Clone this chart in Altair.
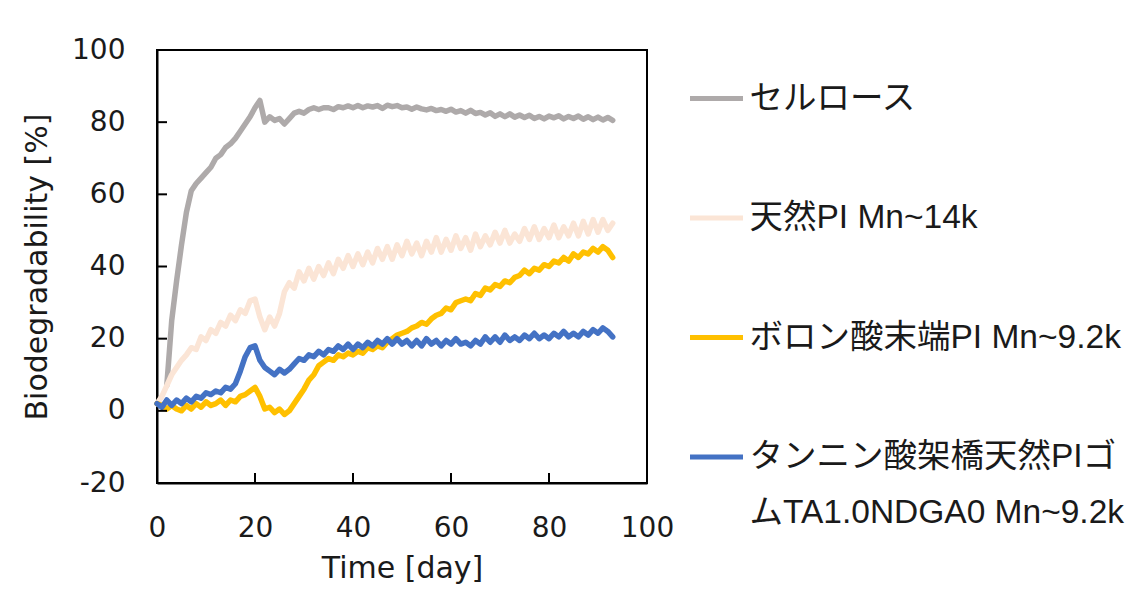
import altair as alt
import pandas as pd

# ---- data ----
days = list(range(0, 94))

cellulose = [None, None, 7, 25, 36, 46, 55, 61, 63, 64.5,
             66, 67.5, 70, 71, 73, 74, 75.5, 77.5, 79.5, 81.5,
             84, 86, 80, 81.5, 80.5, 81, 79.5, 81, 82.5, 83,
             82.5, 83.5, 84, 83.5, 84, 84, 83.5, 84.3, 84, 84.5,
             84, 84.6, 84, 84.5, 84.2, 84.6, 83.8, 84.7, 84.3, 84.6,
             84, 84.2, 83.6, 84.2, 83.7, 83.4, 83.8, 83.2, 83.5, 83,
             83.6, 82.8, 83.2, 82.5, 83.3, 82.4, 82.7, 82, 82.6, 81.6,
             82.3, 81.5, 82.3, 81.4, 82, 81.3, 81.9, 81, 81.6, 80.9,
             81.7, 81.2, 81.8, 80.9, 81.6, 81, 81.7, 80.8, 81.5, 80.7,
             81.4, 80.6, 81.3, 80.5]

natural_pi = [2, 4, 7, 10, 12, 14, 15.5, 17.5, 17, 20.5,
              19.5, 22.5, 21.5, 24.5, 23.5, 26.5, 25, 28, 27, 30.5,
              31, 26, 22.5, 26, 23.5, 27, 33, 35.5, 34, 38.5,
              36, 39.5, 36.5, 40, 37.5, 41, 38, 42, 39.5, 43,
              40, 43.5, 40.5, 44, 41, 45, 42, 45.5, 42, 46,
              43, 47, 43.5, 46.5, 43, 47, 44, 48, 44, 47.5,
              44.5, 48.5, 45, 48, 44.5, 49, 45.5, 48.5, 46, 49.5,
              46.5, 50, 46.5, 49, 47, 50.5, 47.5, 51, 47.5, 50.5,
              48, 51.5, 48, 51, 48.5, 52, 48.5, 52.5, 49, 53,
              49.5, 53, 50, 52]

boronic_pi = [2, 1.5, 0.5, 1.5, 0.5, 0, 1.5, 0.5, 2, 1,
              2.5, 1.5, 2, 3, 1.5, 3, 2.5, 4, 4.5, 5.5,
              6.5, 4, 0.5, 1, -0.5, 0.5, -1, 0, 2, 4,
              6, 8.5, 10, 12.5, 13.5, 14.5, 14, 15.5, 15, 16,
              15.5, 16.5, 16, 17.5, 17, 18, 17.5, 19, 20, 21,
              21.5, 22, 23, 23.5, 24.5, 24, 25.5, 26.5, 27, 28.5,
              28, 30, 30.5, 31, 30.5, 32.5, 32, 34, 33.5, 35,
              34.5, 36, 35.5, 37, 37.5, 39, 38, 39.5, 39, 40.5,
              40, 41.5, 41, 42.5, 41.5, 43.5, 42.5, 44, 43.5, 45,
              44, 45.5, 44.5, 42.5]

tannic_pi = [2, 1, 3, 1.5, 3, 2, 3.5, 2.5, 4, 3.5,
             5, 4.5, 5.5, 5, 6.5, 6, 7.5, 11, 15, 17.5,
             18, 14, 12, 11, 10, 11.5, 10.5, 11.5, 13, 14.5,
             14, 15.5, 15, 16.5, 15.5, 17, 16.5, 18, 17, 18.5,
             17, 18.5, 17.5, 19, 18, 19.5, 18.5, 20, 18.5, 20,
             18.5, 19.5, 18, 19.5, 18, 20, 18.5, 19.5, 18, 19.5,
             18.5, 20, 18.5, 19, 18, 19.5, 18.5, 20.5, 19, 20.5,
             19, 21, 19.5, 20.5, 19.5, 21, 20, 21.5, 20, 21,
             20, 21.5, 20.5, 22, 20.5, 21.5, 20.5, 22, 21, 22.5,
             21.5, 23, 22, 20.5]

series_names = ["セルロース", "天然PI Mn~14k", "ボロン酸末端PI Mn~9.2k",
                "タンニン酸架橋天然PIゴムTA1.0NDGA0 Mn~9.2k"]
series_values = [cellulose, natural_pi, boronic_pi, tannic_pi]
series_colors = ["#AEAAAA", "#FBE5D6", "#FFC000", "#4472C4"]
long_label_lines = ["タンニン酸架橋天然PIゴ", "ムTA1.0NDGA0 Mn~9.2k"]

x_ticks = [0, 20, 40, 60, 80, 100]
y_ticks = [-20, 0, 20, 40, 60, 80, 100]
x_inner_ticks = [20, 40, 60, 80]
y_inner_ticks = [0, 20, 40, 60, 80]

rows = []
for name, vals in zip(series_names, series_values):
    for d, v in zip(days, vals):
        if v is not None:
            rows.append({"day": d, "value": v, "series": name})
df = pd.DataFrame(rows)

W, H = 490, 433
AX_FONT = "DejaVu Sans"
LEG_FONT = "Liberation Sans, Noto Sans CJK JP, sans-serif"
TXT = "#1a1a1a"

label_expr = ("datum.label == '" + series_names[3] + "' ? ['" + long_label_lines[0]
              + "', '" + long_label_lines[1] + "'] : datum.label")

x_enc = alt.X("day:Q", scale=alt.Scale(domain=[0, 100], nice=False),
              axis=alt.Axis(values=x_ticks, title="Time [day]", grid=False, ticks=False,
                            labelPadding=31, labelFont=AX_FONT, labelFontSize=28,
                            labelColor=TXT, titleFont=AX_FONT, titleFontSize=30,
                            titleFontWeight="normal", titleColor=TXT,
                            titleX=W / 2, titleY=85, titleBaseline="middle",
                            domainColor="black", domainWidth=2, labelFlush=False,
                            labelExpr="datum.value + ''"))
y_enc = alt.Y("value:Q", scale=alt.Scale(domain=[-20, 100], nice=False),
              axis=alt.Axis(values=y_ticks, title="Biodegradability [%]", grid=False,
                            ticks=False, labelPadding=32, labelFont=AX_FONT,
                            labelFontSize=28, labelColor=TXT, titleFont=AX_FONT,
                            titleFontSize=30, titleFontWeight="normal", titleColor=TXT,
                            titleX=-120, titleY=H / 2, titleAlign="center",
                            titleBaseline="middle", titleAngle=-90,
                            domainColor="black", domainWidth=2, labelFlush=False,
                            labelExpr="datum.value + ''"))

color_enc = alt.Color(
    "series:N",
    scale=alt.Scale(domain=series_names, range=series_colors),
    legend=alt.Legend(
        title=None, orient="none", legendX=530.5, legendY=19.5, padding=0,
        symbolType="stroke", symbolSize=2809, symbolStrokeWidth=5,
        labelFont=LEG_FONT, labelFontSize=33.5, labelColor=TXT, labelOffset=4,
        labelLimit=0, rowPadding=73.5, labelExpr=label_expr,
    ),
)

layers = []
for name in series_names:
    layers.append(
        alt.Chart(df).transform_filter(alt.datum.series == name)
        .mark_line(strokeWidth=5.5, strokeJoin="round", strokeCap="round")
        .encode(x=x_enc, y=y_enc, color=color_enc)
    )

# inward tick marks
ytick_layer = alt.Chart(pd.DataFrame({"v": y_inner_ticks})).mark_rule(
    color="black", strokeWidth=2).encode(
    y="v:Q", y2="v:Q", x=alt.value(0), x2=alt.value(10))
xtick_layer = alt.Chart(pd.DataFrame({"v": x_inner_ticks})).mark_rule(
    color="black", strokeWidth=2).encode(
    x="v:Q", x2="v:Q", y=alt.value(H), y2=alt.value(H - 10))

chart = alt.layer(*layers, ytick_layer, xtick_layer).properties(
    width=W, height=H,
    autosize=alt.AutoSizeParams(type="none"),
    padding={"left": 157, "top": 50, "right": 486, "bottom": 106},
    background="white",
).configure(
    view=alt.ViewConfig(stroke="black", strokeWidth=2),
    style={"guide-label": {"lineHeight": 56}},
)

chart.save("out.html", embed_options={"renderer": "svg", "actions": False})
